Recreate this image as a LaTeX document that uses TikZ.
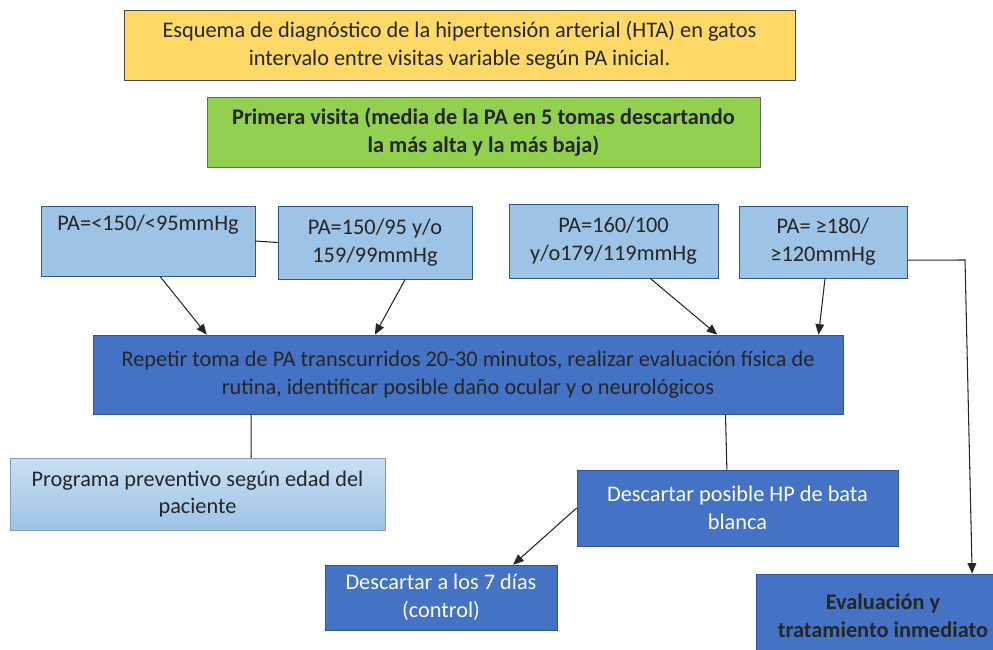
\documentclass[tikz,border=0pt]{standalone}
\usepackage{fontspec}
\setmainfont{Carlito}
\usetikzlibrary{arrows.meta,calc}

\definecolor{gold}{HTML}{FFD966}
\definecolor{leaf}{HTML}{92D050}
\definecolor{pale}{HTML}{9DC3E6}
\definecolor{paler}{HTML}{BDD7EE}
\definecolor{deep}{HTML}{4472C4}
\definecolor{edgeblue}{HTML}{2F5597}
\definecolor{ink}{HTML}{262626}

\begin{document}
\begin{tikzpicture}
      [ x=0.02cm, y=-0.02cm
      , box/.style={draw, thin, align=center, inner sep=2pt,
                    font=\fontsize{12.7}{15.8}\selectfont, text=ink}
      , header/.style={box, fill=gold, draw=black!70}
      , visit/.style={box, fill=leaf, draw=black!60, font=\fontsize{12.7}{15.8}\selectfont\bfseries}
      , rangebox/.style={box, fill=pale, draw=edgeblue}
      , repeatbox/.style={box, fill=deep, draw=edgeblue}
      , planbox/.style={box, top color=paler!80!white, bottom color=pale, draw=pale!80!black}
      , darkbox/.style={box, fill=deep, draw=edgeblue, text=white}
      , link/.style={black!85, line width=0.6pt}
      , arrow/.style={link, -{Triangle[length=6pt, width=5pt]}}
      ]
    \useasboundingbox (0,0) rectangle (993,649);

    \node[header, minimum width=671*0.02cm, minimum height=70*0.02cm] (title) at (459.5,45)
      {Esquema de diagnóstico de la hipertensión arterial (HTA) en gatos\\intervalo entre visitas variable según PA inicial.};
    \node[visit, minimum width=553*0.02cm, minimum height=70*0.02cm] (first) at (483.5,132)
      {Primera visita (media de la PA en 5 tomas descartando\\la más alta y la más baja)};

    \node[rangebox, minimum width=214*0.02cm, minimum height=70*0.02cm] (pa1) at (148,241)
      {PA=<150/<95mmHg\\\strut};
    \node[rangebox, minimum width=194*0.02cm, minimum height=73*0.02cm] (pa2) at (375,242.5)
      {PA=150/95 y/o\\159/99mmHg};
    \node[rangebox, minimum width=209*0.02cm, minimum height=74*0.02cm] (pa3) at (613.5,241)
      {PA=160/100\\y/o179/119mmHg};
    \node[rangebox, minimum width=168*0.02cm, minimum height=72*0.02cm] (pa4) at (823,242)
      {PA= ≥180/\\≥120mmHg};

    \node[repeatbox, minimum width=750*0.02cm, minimum height=79*0.02cm] (repeat) at (468,374.5)
      {Repetir toma de PA transcurridos 20-30 minutos, realizar evaluación física de\\rutina, identificar posible daño ocular y o neurológicos};

    \node[planbox, minimum width=375*0.02cm, minimum height=72*0.02cm] (prog) at (197.5,494)
      {Programa preventivo según edad del\\paciente};
    \node[darkbox, minimum width=321*0.02cm, minimum height=76*0.02cm] (white) at (737.5,508)
      {Descartar posible HP de bata\\blanca};
    \node[darkbox, minimum width=232*0.02cm, minimum height=65*0.02cm] (week) at (441,597.5)
      {Descartar a los 7 días\\(control)};
    \node[repeatbox, font=\fontsize{12.7}{15.8}\selectfont\bfseries, minimum width=254*0.02cm, minimum height=84*0.02cm] (treat) at (883,616)
      {Evaluación y\\tratamiento inmediato};

    \coordinate (bend) at (965,260);

    \draw[link] (pa1.east) -- (pa2.west);

    \path[arrow]
    ($(pa1.south west)!0.556!(pa1.south east)$) edge ($(repeat.north west)!0.152!(repeat.north east)$)
    ($(pa2.south west)!0.655!(pa2.south east)$) edge ($(repeat.north west)!0.376!(repeat.north east)$)
    ($(pa3.south west)!0.675!(pa3.south east)$) edge ($(repeat.north west)!0.832!(repeat.north east)$)
    ($(pa4.south west)!0.512!(pa4.south east)$) edge ($(repeat.north west)!0.967!(repeat.north east)$)
    (white.west) edge ($(week.north west)!0.81!(week.north east)$);

    \draw[arrow] ($(pa4.north east)!0.75!(pa4.south east)$) -- (bend)
      -- ($(treat.north west)!0.85!(treat.north east)$);

    \draw[link]
    ($(repeat.south west)!0.211!(repeat.south east)$) -- ($(prog.north west)!0.643!(prog.north east)$)
    ($(repeat.south west)!0.843!(repeat.south east)$) -- ($(white.north west)!0.467!(white.north east)$);

  \end{tikzpicture}
\end{document}
